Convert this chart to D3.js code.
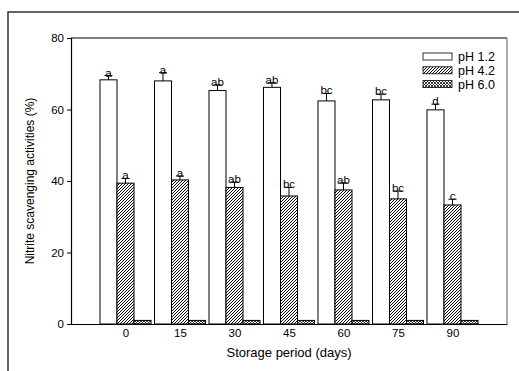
<!DOCTYPE html>
<html>
<head>
<meta charset="utf-8">
<script src="https://cdn.jsdelivr.net/npm/d3@7/dist/d3.min.js"></script>
<style>
  body { margin: 0; background: #fff; }
  svg { display: block; font-family: Arial, "Liberation Sans", sans-serif; }
</style>
</head>
<body>
<svg id="chart" width="519" height="371"></svg>
<script>
// storage days on the x axis
const days = [0, 15, 30, 45, 60, 75, 90];
const yTicks = [0, 20, 40, 60, 80];

// nitrite scavenging (%) per pH
const ph12 = [68.3, 68.0, 65.3, 66.2, 62.4, 62.7, 59.9];
const ph12Err = [1.2, 2.3, 1.6, 1.3, 2.1, 1.6, 1.6];
const ph12Letters = ['a', 'a', 'ab', 'ab', 'bc', 'bc', 'd'];

const ph42 = [39.4, 40.3, 38.2, 35.8, 37.5, 35.0, 33.3];
const ph42Err = [1.3, 1.1, 1.5, 2.4, 2.0, 2.2, 1.6];
const ph42Letters = ['a', 'a', 'ab', 'bc', 'ab', 'bc', 'c'];

const ph60 = [1.0, 1.0, 1.0, 1.0, 1.0, 1.0, 1.0];

const seriesNames = ['pH 1.2', 'pH 4.2', 'pH 6.0'];

const svg = d3.select('#chart');
const mLeft = 71, mRight = 507, mTop = 38, mBottom = 324;

const x = d3.scaleLinear().domain([-15, 105]).range([mLeft, mRight]);
const y = d3.scaleLinear().domain([0, 80]).range([mBottom, mTop]);
const barW = (x(15) - x(0)) * 0.312;

// patterns
const defs = svg.append('defs');
const hatch = defs.append('pattern').attr('id', 'hatch')
  .attr('patternUnits', 'userSpaceOnUse').attr('width', 3).attr('height', 3);
hatch.append('rect').attr('width', 3).attr('height', 3).attr('fill', '#fff');
hatch.append('path').attr('d', 'M-1,1 l2,-2 M0,3 l3,-3 M2,4 l2,-2')
  .attr('stroke', '#000').attr('stroke-width', 1);

const check = defs.append('pattern').attr('id', 'check')
  .attr('patternUnits', 'userSpaceOnUse').attr('width', 3).attr('height', 3);
check.append('rect').attr('width', 3).attr('height', 3).attr('fill', '#fff');
check.append('path').attr('d', 'M0,0 l3,3 M3,0 l-3,3')
  .attr('stroke', '#222').attr('stroke-width', 0.9);

const fills = ['#fff', 'url(#hatch)', 'url(#check)'];

// outer frame (runs off the right and bottom edge)
svg.append('rect').attr('x', 8).attr('y', 12).attr('width', 600).attr('height', 400)
  .attr('fill', 'none').attr('stroke', '#333').attr('stroke-width', 1.5);

// plot box top/right
svg.append('line').attr('x1', mLeft).attr('x2', mRight).attr('y1', mTop).attr('y2', mTop)
  .attr('stroke', '#000');
svg.append('line').attr('x1', mRight).attr('x2', mRight).attr('y1', mTop).attr('y2', mBottom)
  .attr('stroke', '#777').attr('stroke-width', 1.2);

// bars
const series = [
  {vals: ph12, err: ph12Err, letters: ph12Letters},
  {vals: ph42, err: ph42Err, letters: ph42Letters},
  {vals: ph60, err: null, letters: null}
];

series.forEach((s, si) => {
  const g = svg.append('g');
  const off = (si - 1.5) * barW;
  g.selectAll('rect').data(days).join('rect')
    .attr('x', (d) => x(d) + off)
    .attr('y', (d, i) => y(s.vals[i]))
    .attr('width', barW)
    .attr('height', (d, i) => y(0) - y(s.vals[i]))
    .attr('fill', fills[si])
    .attr('stroke', '#000')
    .attr('stroke-width', 1);

  if (s.err) {
    const cx = (d) => x(d) + off + barW / 2;
    g.selectAll('line.v').data(days).join('line').attr('class', 'v')
      .attr('x1', cx).attr('x2', cx)
      .attr('y1', (d, i) => y(s.vals[i]))
      .attr('y2', (d, i) => y(s.vals[i] + s.err[i]))
      .attr('stroke', '#000');
    g.selectAll('line.c').data(days).join('line').attr('class', 'c')
      .attr('x1', (d) => cx(d) - 4).attr('x2', (d) => cx(d) + 4)
      .attr('y1', (d, i) => y(s.vals[i] + s.err[i]))
      .attr('y2', (d, i) => y(s.vals[i] + s.err[i]))
      .attr('stroke', '#000');
    g.selectAll('text').data(days).join('text')
      .attr('x', cx)
      .attr('y', (d, i) => y(s.vals[i] + s.err[i]) + 1)
      .attr('text-anchor', 'middle')
      .attr('font-size', 11.5)
      .text((d, i) => s.letters[i]);
  }
});

// axes
const yAxis = svg.append('g').attr('transform', `translate(${mLeft},0)`)
  .call(d3.axisLeft(y).tickValues(yTicks).tickSize(4).tickPadding(3));
yAxis.selectAll('text').attr('font-size', 11.5).attr('fill', '#000');

const xAxis = svg.append('g').attr('transform', `translate(0,${mBottom})`)
  .call(d3.axisBottom(x).tickValues(days).tickSize(0).tickPadding(5));
xAxis.selectAll('text').attr('font-size', 11.5).attr('fill', '#000');

svg.selectAll('.domain').attr('stroke', '#000').attr('stroke-width', 1.2);

// titles
svg.append('text')
  .attr('transform', `translate(34,${(mTop + mBottom) / 2}) rotate(-90)`)
  .attr('text-anchor', 'middle')
  .attr('font-size', 12)
  .text('Nitrite scavenging activities (%)');

svg.append('text')
  .attr('x', 289).attr('y', 357)
  .attr('text-anchor', 'middle')
  .attr('font-size', 13)
  .text('Storage period (days)');

// legend
const legend = svg.append('g').attr('transform', 'translate(423,53)');
seriesNames.forEach((name, i) => {
  legend.append('rect').attr('x', 0).attr('y', i * 13.8)
    .attr('width', 29).attr('height', 7)
    .attr('fill', fills[i]).attr('stroke', '#000').attr('stroke-width', 0.8);
  legend.append('text').attr('x', 35).attr('y', i * 13.8 + 8)
    .attr('font-size', 12.5).text(name);
});
</script>
</body>
</html>
